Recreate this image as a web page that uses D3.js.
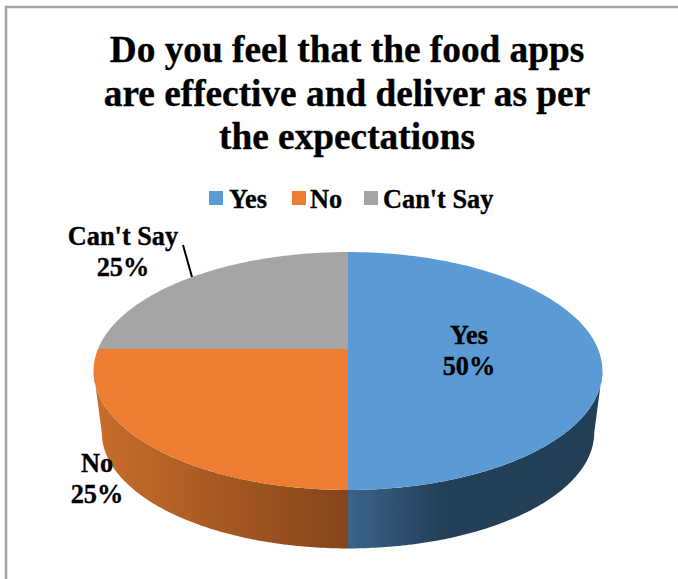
<!DOCTYPE html>
<html>
<head>
<meta charset="utf-8">
<script src="https://cdn.jsdelivr.net/npm/d3@7/dist/d3.min.js"></script>
<style>
  html, body { margin: 0; padding: 0; background: #fff; }
  svg { display: block; }
  text { font-family: "Liberation Serif", serif; font-weight: bold; fill: #000; stroke: #000; stroke-width: 0.35; }
</style>
</head>
<body>
<svg id="chart" width="678" height="579"></svg>
<script>
const titleLines = ["Do you feel that the food apps", "are effective and deliver as per", "the expectations"];
const categories = ["Yes", "No", "Can't Say"];
const shares = [50, 25, 25];
const topColors = ["#5b9bd5", "#ed7d31", "#a5a5a5"];
const wallShades = [["#3b6489", "#233e57"], ["#c96d2a", "#84451a"], ["#636363", "#636363"]];

const svg = d3.select("#chart");
const W = 678, H = 579;

// Chart area frame: only its left and top edges fall inside the canvas
svg.append("path")
  .attr("d", d3.line()([[6, H], [6, 7], [W, 7]]))
  .attr("fill", "none").attr("stroke", "#a3a3a3").attr("stroke-width", 2.5);

svg.append("g").selectAll("text").data(titleLines).join("text")
  .attr("x", 347).attr("y", (d, i) => 62 + i * 43.5)
  .attr("text-anchor", "middle").attr("font-size", 37.3).text(d => d);

// Legend
const legendSwatchX = [209, 292, 364];
const legendTextX = [229, 310, 383];
const legend = svg.append("g").selectAll("g").data(categories).join("g");
legend.append("rect")
  .attr("x", (d, i) => legendSwatchX[i]).attr("y", 191)
  .attr("width", 14).attr("height", 14)
  .attr("fill", (d, i) => topColors[i]);
legend.append("text")
  .attr("x", (d, i) => legendTextX[i]).attr("y", 208)
  .attr("font-size", 26.3).text(d => d);

// Perspective projection of a tilted disc: angle 0 points away from the viewer, clockwise
const perspective = 0.185;
function discProjector(cx, cy, rx, ry) {
  return a => {
    const u = Math.sin(a), v = -Math.cos(a), s = 1 / (1 - perspective * v);
    return [cx + rx * u * s, cy + ry * v * s];
  };
}
const topDisc = discProjector(348, 349, 250, 114.9);
const baseDisc = discProjector(348, 411, 242, 112);

const arcs = d3.pie().sort(null).value(d => d)(shares);
const sampleAngles = (a0, a1) => d3.range(0, 121).map(i => a0 + (a1 - a0) * i / 120);
const line = d3.line();

// Walls are visible only on the part of the rim facing the viewer
const defs = svg.append("defs");
const rimStart = Math.PI / 2 + Math.asin(perspective);
const rimEnd = 2 * Math.PI - rimStart;
arcs.forEach((arc, i) => {
  const a0 = Math.max(arc.startAngle, rimStart), a1 = Math.min(arc.endAngle, rimEnd);
  if (a1 <= a0) return;
  const angles = sampleAngles(a0, a1);
  const pts = angles.map(topDisc).concat(angles.slice().reverse().map(baseDisc));
  const xs = d3.extent(pts, p => p[0]);
  const id = "wall" + i;
  // The shade runs from the lit end of the rim to the centre-front seam
  const grad = defs.append("linearGradient").attr("id", id)
    .attr("gradientUnits", "userSpaceOnUse")
    .attr("x1", i === 0 ? 348 : xs[0]).attr("x2", i === 0 ? 445 : 348)
    .attr("y1", 0).attr("y2", 0);
  grad.append("stop").attr("offset", 0).attr("stop-color", wallShades[i][0]);
  grad.append("stop").attr("offset", 1).attr("stop-color", wallShades[i][1]);
  svg.append("path").attr("d", line(pts) + "Z").attr("fill", `url(#${id})`);
});

// Top face of the pie
svg.append("g").selectAll("path").data(arcs).join("path")
  .attr("d", d => line([[348, 349]].concat(sampleAngles(d.startAngle, d.endAngle).map(topDisc))) + "Z")
  .attr("fill", (d, i) => topColors[i]);

// Data labels
const labelX = [469, 97, 123];
const labelY = [344, 472, 245];
const labels = svg.append("g").selectAll("text").data(categories).join("text")
  .attr("text-anchor", "middle").attr("font-size", 26.3);
labels.append("tspan").attr("x", (d, i) => labelX[i]).attr("y", (d, i) => labelY[i]).text(d => d);
labels.append("tspan").attr("x", (d, i) => labelX[i]).attr("y", (d, i) => labelY[i] + 31)
  .text((d, i) => `${Math.round(100 * shares[i] / d3.sum(shares))}%`);

// Leader line for the outside label
svg.append("path").attr("d", line([[183, 245], [192, 277]]))
  .attr("stroke", "#000").attr("stroke-width", 2).attr("fill", "none");
</script>
</body>
</html>
